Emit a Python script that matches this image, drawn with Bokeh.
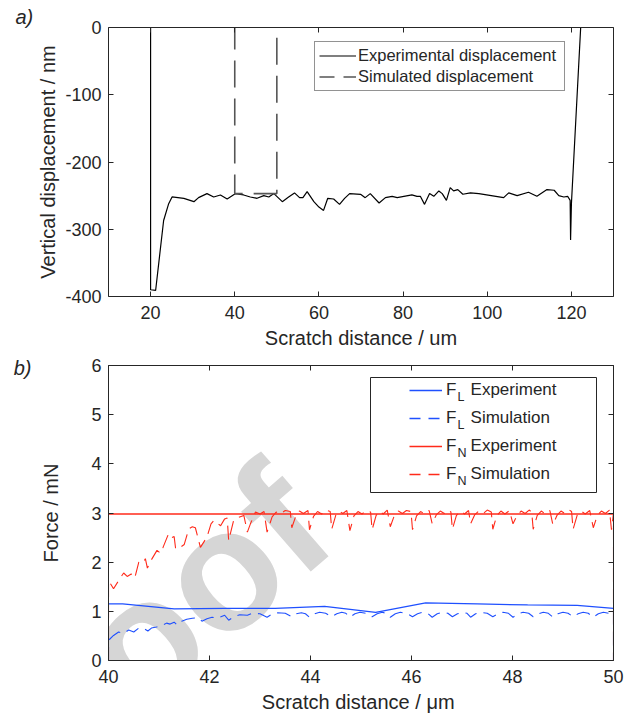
from bokeh.plotting import figure
from bokeh.layouts import column
from bokeh.models import (Range1d, LinearAxis, FixedTicker, Legend, LegendItem,
                          Label, BoxAnnotation, PrintfTickFormatter)
from bokeh.embed import file_html
from bokeh.resources import INLINE

FONT = "Liberation Sans"
INK = "#262626"
BLUE = "#1f50ff"
RED = "#ff2a1a"

# ---------------- panel a) data ----------------
disp_exp_x = [20.0, 20.0, 21.2, 23.1, 24.3, 25.1, 27.9, 30.3, 31.4, 33.4, 35.0, 36.6,
              38.2, 40.2, 42.1, 43.7, 45.3, 46.9, 48.1, 49.3, 51.3, 52.8, 54.2, 55.4,
              56.2, 57.2, 58.8, 60.0, 61.1, 62.1, 63.5, 64.9, 66.1, 67.3, 69.9, 71.0,
              72.2, 74.3, 75.8, 77.4, 78.6, 82.1, 83.3, 84.1, 85.1, 86.3, 87.3, 88.5,
              89.3, 90.3, 91.2, 92.0, 93.0, 94.2, 96.0, 98.0, 103.9, 105.1, 107.1,
              109.8, 111.8, 114.2, 115.9, 117.0, 118.2, 119.1, 119.7, 119.8, 120.0, 122.2]
disp_exp_y = [0, -390, -391, -287, -262, -252, -254, -259, -253, -247, -252, -249,
              -255, -247, -249, -252, -254, -250, -252, -247, -259, -252, -246, -253,
              -253, -244, -259, -267, -272, -254, -255, -263, -254, -247, -248, -253,
              -247, -261, -253, -251, -253, -249, -251, -251, -263, -247, -251, -243,
              -247, -257, -238, -243, -241, -248, -246, -247, -253, -246, -250,
              -245, -251, -241, -242, -250, -252, -251, -257, -316, -262, 0]
disp_sim_x = [40, 40, 50, 50]
disp_sim_y = [0, -247, -247, 0]
a_xticks = [20, 40, 60, 80, 100, 120]
a_yticks = [-400, -300, -200, -100, 0]

# ---------------- panel b) data ----------------
fl_exp_x = [40.0, 40.28, 41.30, 42.30, 43.30, 44.28, 45.29, 46.28, 47.30, 48.30, 49.28, 50.0]
fl_exp_y = [1.15, 1.15, 1.05, 1.06, 1.06, 1.10, 0.98, 1.17, 1.15, 1.13, 1.12, 1.06]

fn_exp_x = [40.0, 50.0]
fn_exp_y = [2.98, 2.98]

fl_sim_x = [40.00, 40.00, 40.10, 40.20, 40.30, 40.40, 40.50, 40.60, 40.70, 40.78, 40.85,
            40.95, 41.06, 41.15, 41.22, 41.30, 41.36, 41.45, 41.55, 41.66, 41.78, 41.85,
            41.95, 42.05, 42.15, 42.30, 42.38, 42.50, 42.60, 42.75, 42.85, 43.00, 43.14,
            43.25, 43.35, 43.50, 43.63, 43.72, 43.82, 43.90, 43.98, 44.08, 44.18, 44.30,
            44.42, 44.52, 44.62, 44.70, 44.78, 44.88, 44.98, 45.10, 45.22, 45.32, 45.42,
            45.50, 45.58, 45.68, 45.78, 45.90, 46.02, 46.12, 46.22, 46.32, 46.41, 46.51,
            46.61, 46.72, 46.81, 46.91, 47.01, 47.10, 47.17, 47.27, 47.37, 47.50, 47.61,
            47.71, 47.81, 47.92, 48.01, 48.11, 48.21, 48.32, 48.41, 48.51, 48.61, 48.71,
            48.80, 48.90, 49.00, 49.10, 49.20, 49.30, 49.40, 49.50, 49.60, 49.70, 49.80,
            49.90, 49.96, 50.00, 50.00]
fl_sim_y = [0.00, 0.41, 0.51, 0.58, 0.55, 0.62, 0.58, 0.66, 0.65, 0.60, 0.66,
            0.68, 0.71, 0.76, 0.74, 0.78, 0.72, 0.80, 0.84, 0.86, 0.87, 0.80,
            0.85, 0.88, 0.86, 0.92, 0.82, 0.90, 0.93, 0.92, 0.96, 0.95, 0.88,
            0.95, 0.97, 0.96, 0.89, 0.95, 0.97, 0.95, 0.88, 0.95, 0.98, 0.96,
            0.89, 0.95, 0.98, 0.96, 0.88, 0.95, 0.98, 0.96, 0.89, 0.95, 0.98,
            0.96, 0.88, 0.95, 0.98, 0.96, 0.89, 0.95, 0.98, 0.96, 0.88, 0.95,
            0.98, 0.96, 0.89, 0.95, 0.98, 0.96, 0.88, 0.95, 0.98, 0.96, 0.89,
            0.95, 0.98, 0.96, 0.88, 0.95, 0.98, 0.96, 0.89, 0.95, 0.98, 0.96,
            0.88, 0.95, 0.98, 0.96, 0.89, 0.95, 0.98, 0.96, 0.88, 0.95, 0.98,
            0.96, 0.93, 1.00, 0.00]

fn_sim_x = [40.00, 40.00, 40.10, 40.24, 40.30, 40.37, 40.45, 40.52, 40.60, 40.68, 40.73,
            40.77, 40.85, 40.96, 41.03, 41.08, 41.19, 41.25, 41.30, 41.33, 41.42, 41.50,
            41.59, 41.66, 41.72, 41.82, 41.95, 42.03, 42.09, 42.22, 42.30, 42.35, 42.38,
            42.48, 42.55, 42.68, 42.75, 42.81, 42.91, 43.00, 43.08, 43.14, 43.24, 43.32,
            43.40, 43.50, 43.60, 43.63, 43.71, 43.78, 43.86, 43.95, 43.98, 44.06, 44.14,
            44.22, 44.30, 44.39, 44.42, 44.50, 44.57, 44.64, 44.72, 44.78, 44.86, 44.94,
            45.02, 45.10, 45.19, 45.22, 45.30, 45.37, 45.44, 45.52, 45.58, 45.66, 45.74,
            45.82, 45.90, 45.99, 46.02, 46.10, 46.18, 46.26, 46.35, 46.41, 46.49, 46.57,
            46.65, 46.74, 46.78, 46.81, 46.89, 46.97, 47.05, 47.13, 47.17, 47.25, 47.33,
            47.42, 47.50, 47.58, 47.61, 47.69, 47.77, 47.85, 47.94, 48.01, 48.09, 48.17,
            48.25, 48.33, 48.38, 48.41, 48.49, 48.57, 48.65, 48.74, 48.80, 48.88, 48.96,
            49.04, 49.12, 49.17, 49.20, 49.28, 49.36, 49.44, 49.53, 49.60, 49.68, 49.76,
            49.84, 49.92, 49.96, 50.00, 50.00]
fn_sim_y = [0.00, 1.63, 1.46, 1.69, 1.78, 1.71, 1.76, 1.68, 2.00, 1.98, 2.07,
            1.88, 2.05, 2.24, 2.18, 2.30, 2.58, 2.50, 2.52, 2.27, 2.30, 2.36,
            2.68, 2.72, 2.70, 2.30, 2.51, 2.78, 2.85, 2.74, 2.88, 2.90, 2.44,
            2.86, 2.90, 2.95, 2.61, 2.78, 3.02, 2.98, 3.03, 2.61, 2.92, 3.02,
            2.98, 3.05, 3.03, 2.70, 2.94, 3.04, 2.99, 3.05, 2.66, 2.93, 3.03,
            2.98, 3.06, 3.03, 2.67, 2.95, 3.04, 2.99, 3.05, 2.64, 2.94, 3.03,
            2.98, 3.05, 3.02, 2.66, 2.95, 3.04, 2.98, 3.06, 2.72, 2.95, 3.04,
            2.99, 3.05, 3.03, 2.66, 2.94, 3.03, 2.98, 3.05, 2.78, 2.96, 3.04,
            2.99, 3.06, 3.02, 2.67, 2.95, 3.04, 2.98, 3.05, 2.78, 2.96, 3.04,
            2.99, 3.06, 3.02, 2.67, 2.95, 3.04, 2.98, 3.05, 2.78, 2.95, 3.04,
            2.99, 3.06, 3.02, 2.67, 2.95, 3.04, 2.98, 3.05, 2.76, 2.95, 3.04,
            2.99, 3.06, 3.03, 2.67, 2.95, 3.04, 2.98, 3.05, 2.70, 2.95, 3.04,
            2.99, 3.06, 2.66, 3.00, 0.00]
b_xticks = [40, 42, 44, 46, 48, 50]
b_yticks = [0, 1, 2, 3, 4, 5, 6]


def dress(p, xticks, yticks, xlabel, ylabel, ylab_standoff, xlab_standoff):
    p.grid.visible = False
    p.outline_line_color = None
    p.background_fill_color = "white"
    p.border_fill_color = "white"
    p.xaxis.ticker = FixedTicker(ticks=xticks)
    p.yaxis.ticker = FixedTicker(ticks=yticks)
    for ax in (p.xaxis[0], p.yaxis[0]):
        ax.formatter = PrintfTickFormatter(format="%d")
        ax.axis_line_color = INK
        ax.axis_line_width = 1
        ax.major_tick_line_color = INK
        ax.major_tick_in = 5
        ax.major_tick_out = 0
        ax.minor_tick_line_color = None
        ax.major_label_text_font = FONT
        ax.major_label_text_font_size = "18px"
        ax.major_label_text_color = INK
        ax.axis_label_text_font = FONT
        ax.axis_label_text_font_size = "20px"
        ax.axis_label_text_font_style = "normal"
        ax.axis_label_text_color = INK
    p.xaxis.axis_label = xlabel
    p.yaxis.axis_label = ylabel
    p.xaxis.major_label_standoff = 9
    p.yaxis.major_label_standoff = 7
    p.yaxis.axis_label_standoff = ylab_standoff
    p.xaxis.axis_label_standoff = xlab_standoff
    for side, ticks in (("right", yticks), ("above", xticks)):
        ax = LinearAxis(ticker=FixedTicker(ticks=ticks))
        ax.major_label_overrides = {t: "" for t in ticks}
        ax.major_label_text_font_size = "0px"
        ax.major_label_standoff = 0
        ax.major_tick_in = 5
        ax.major_tick_out = 0
        ax.minor_tick_line_color = None
        ax.axis_line_color = INK
        ax.major_tick_line_color = INK
        p.add_layout(ax, side)


# ---------------- panel a ----------------
p1 = figure(width=632, height=355, x_range=Range1d(10, 130), y_range=Range1d(-400, 0),
            output_backend="svg", toolbar_location=None,
            min_border_left=108, min_border_right=19, min_border_top=27, min_border_bottom=59)
p1.title.text = "a)"
p1.title.align = "left"
p1.title.offset = -93
p1.title.standoff = 0
p1.title.text_font = FONT
p1.title.text_font_style = "italic"
p1.title.text_font_size = "20px"
p1.title.text_color = INK
dress(p1, a_xticks, a_yticks, "Scratch distance / um", "Vertical displacement / nm", 3, 5)

r_exp = p1.line(disp_exp_x, disp_exp_y, line_color="black", line_width=1.2)
p1.line(disp_sim_x, disp_sim_y, line_color="#555555", line_width=1.6,
        line_dash="27 11", line_dash_offset=5)
r_sim_leg = p1.line(disp_sim_x, disp_sim_y, line_color="#555555", line_width=1.6,
                    line_dash="15 9", visible=False)

leg1 = Legend(items=[LegendItem(label="Experimental displacement", renderers=[r_exp]),
                     LegendItem(label="Simulated displacement", renderers=[r_sim_leg])],
              location=(206, 205), margin=0, padding=4, spacing=2,
              glyph_width=37, glyph_height=17, label_height=17, label_width=202,
              label_standoff=2,
              label_text_font=FONT, label_text_font_size="16.5px", label_text_color=INK,
              border_line_color=INK, border_line_width=1,
              background_fill_color="white", background_fill_alpha=1)
p1.add_layout(leg1)

# ---------------- panel b ----------------
p2 = figure(width=632, height=363, x_range=Range1d(40, 50), y_range=Range1d(0, 6),
            output_backend="svg", toolbar_location=None,
            min_border_left=108, min_border_right=19, min_border_top=10, min_border_bottom=58)

p2.add_layout(Label(x=-82, y=-206, x_units="screen", y_units="screen", text="Proof",
                    angle=0.7156, text_font=FONT, text_font_style="bold",
                    text_font_size="172px", text_color="#d6d6d6", level="underlay"))

dress(p2, b_xticks, b_yticks, "Scratch distance /  \u03bcm", "Force / mN", 26, 5)

# panel tag "b)" drawn as the single tick label of an outer, otherwise bare, left axis
tag_b = LinearAxis(ticker=FixedTicker(ticks=[6]), major_label_overrides={6: "b)"},
                   axis_line_color=None, major_tick_line_color=None,
                   minor_tick_line_color=None, major_tick_in=0, major_tick_out=0,
                   major_label_standoff=6, major_label_text_font=FONT,
                   major_label_text_font_style="italic", major_label_text_font_size="20px",
                   major_label_text_color=INK)
p2.add_layout(tag_b, "left")

r_fle = p2.line(fl_exp_x, fl_exp_y, line_color=BLUE, line_width=1.3)
p2.line(fl_sim_x, fl_sim_y, line_color=BLUE, line_width=1.1, line_dash="14 7")
r_fne = p2.line(fn_exp_x, fn_exp_y, line_color=RED, line_width=1.5)
p2.line(fn_sim_x, fn_sim_y, line_color=RED, line_width=1.1, line_dash="14 7")

l_fls = p2.line(fl_sim_x, fl_sim_y, line_color=BLUE, line_width=1.3, line_dash="11 8",
                visible=False)
l_fns = p2.line(fn_sim_x, fn_sim_y, line_color=RED, line_width=1.3, line_dash="11 8",
                visible=False)

p2.add_layout(BoxAnnotation(left=262, right=488, bottom=168, top=283,
                            left_units="screen", right_units="screen",
                            bottom_units="screen", top_units="screen",
                            fill_color="white", fill_alpha=1,
                            line_color=INK, line_width=1, line_alpha=1))
NB = "\u00a0"
leg2 = Legend(items=[LegendItem(label="F" + NB * 3 + "Experiment", renderers=[r_fle]),
                     LegendItem(label="F" + NB * 3 + "Simulation", renderers=[l_fls]),
                     LegendItem(label="F" + NB * 3 + "Experiment", renderers=[r_fne]),
                     LegendItem(label="F" + NB * 3 + "Simulation", renderers=[l_fns])],
              location=(301, 175), margin=0, padding=0, spacing=6,
              glyph_width=33, glyph_height=22, label_height=22, label_standoff=4,
              label_text_font=FONT, label_text_font_size="17px", label_text_color=INK,
              border_line_alpha=0, background_fill_alpha=0)
p2.add_layout(leg2)
for i, sub in enumerate(["L", "L", "N", "N"]):
    p2.add_layout(Label(x=349, y=257 - 28 * i, x_units="screen", y_units="screen",
                        text=sub, text_font=FONT, text_font_size="12.5px", text_color=INK))

layout = column(p1, p2, spacing=0)
open("out.html", "w").write(file_html(layout, INLINE))
